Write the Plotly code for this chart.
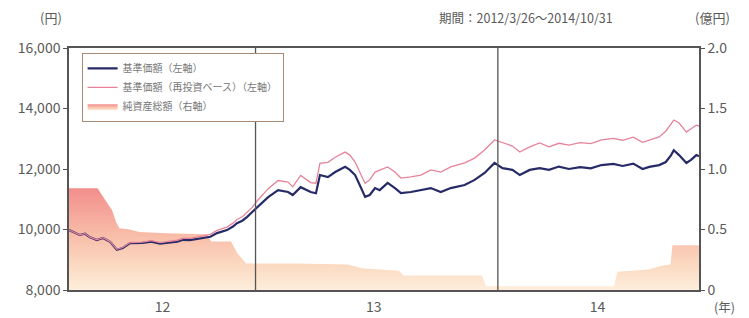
import plotly.graph_objects as go

# ---- data ----
price_dates = [
    "2012-03-26", "2012-04-04", "2012-04-11", "2012-04-19", "2012-04-26", "2012-05-07",
    "2012-05-16", "2012-05-27", "2012-06-06", "2012-06-15", "2012-06-26", "2012-07-15",
    "2012-07-28", "2012-08-10", "2012-08-24", "2012-09-05", "2012-09-14", "2012-09-24",
    "2012-10-14", "2012-10-25", "2012-11-04", "2012-11-19", "2012-11-28", "2012-12-04",
    "2012-12-12", "2012-12-19", "2012-12-27", "2013-01-04", "2013-01-20", "2013-02-04",
    "2013-02-19", "2013-02-26", "2013-03-10", "2013-03-25", "2013-04-02", "2013-04-08",
    "2013-04-20", "2013-05-01", "2013-05-16", "2013-05-23", "2013-05-31", "2013-06-09",
    "2013-06-15", "2013-06-22", "2013-06-30", "2013-07-07", "2013-07-19", "2013-07-30",
    "2013-08-08", "2013-08-23", "2013-09-07", "2013-09-22", "2013-10-07", "2013-10-22",
    "2013-11-12", "2013-11-27", "2013-12-12", "2013-12-27", "2014-01-08", "2014-01-23",
    "2014-02-03", "2014-02-18", "2014-03-05", "2014-03-19", "2014-04-03", "2014-04-18",
    "2014-05-05", "2014-05-21", "2014-06-06", "2014-06-24", "2014-07-08", "2014-07-24",
    "2014-08-07", "2014-08-17", "2014-09-01", "2014-09-11", "2014-09-19", "2014-09-23",
    "2014-10-01", "2014-10-12", "2014-10-19", "2014-10-27", "2014-10-31",
]
nav = [
    9980, 9880, 9820, 9860, 9750, 9650,
    9720, 9590, 9330, 9390, 9550, 9560,
    9600, 9530, 9580, 9600, 9660, 9650,
    9720, 9760, 9880, 9980, 10100, 10210,
    10290, 10410, 10580, 10740, 11070, 11300,
    11240, 11140, 11400, 11240, 11200, 11800,
    11730, 11900, 12070, 11970, 11800, 11370,
    11080, 11140, 11370, 11300, 11540, 11370,
    11200, 11240, 11300, 11370, 11240, 11370,
    11470, 11640, 11870, 12200, 12030, 11970,
    11800, 11970, 12030, 11970, 12080, 12000,
    12060, 12020, 12130, 12170, 12100, 12180,
    12000, 12070, 12130, 12230, 12460, 12620,
    12460, 12200, 12300, 12460, 12420,
]
nav_reinvest = [
    9980, 9885, 9825, 9865, 9755, 9660,
    9730, 9600, 9345, 9405, 9570, 9585,
    9630, 9565, 9620, 9645, 9710, 9705,
    9790, 9840, 9970, 10080, 10210, 10330,
    10420, 10550, 10730, 10960, 11350, 11620,
    11570, 11410, 11790, 11550, 11530, 12190,
    12220, 12390, 12560, 12460, 12230, 11800,
    11530, 11640, 11900, 11960, 12070, 11900,
    11700, 11740, 11800, 11970, 11900, 12070,
    12200, 12360, 12630, 12960, 12860, 12760,
    12560, 12730, 12860, 12730, 12850, 12790,
    12870, 12840, 12960, 13010, 12950, 13050,
    12880, 12960, 13060, 13250, 13500, 13620,
    13520, 13220, 13330, 13450, 13420,
]

asset_dates = [
    "2012-03-26", "2012-05-08", "2012-05-20", "2012-05-30", "2012-06-05", "2012-06-10",
    "2012-06-25", "2012-07-10", "2012-08-20", "2012-10-20", "2012-10-26", "2012-11-25",
    "2012-12-05", "2012-12-18", "2013-03-01", "2013-05-20", "2013-06-10", "2013-08-05",
    "2013-08-12", "2013-12-08", "2013-12-14", "2014-06-25", "2014-06-30", "2014-08-15",
    "2014-09-05", "2014-09-18", "2014-09-21", "2014-10-31",
]
net_assets = [
    0.84, 0.84, 0.74, 0.66, 0.56, 0.51,
    0.50, 0.48, 0.47, 0.46, 0.40, 0.40,
    0.30, 0.22, 0.22, 0.21, 0.18, 0.16,
    0.12, 0.12, 0.03, 0.03, 0.15, 0.17,
    0.20, 0.21, 0.37, 0.37,
]

year_boundaries = ["2013-01-01", "2014-01-01"]
year_tick_positions = ["2012-08-14", "2013-06-28", "2014-05-31"]
year_tick_labels = ["12", "13", "14"]
left_ticks = [8000, 10000, 12000, 14000, 16000]
right_ticks = [0, 0.5, 1.0, 1.5, 2.0]
right_tick_labels = ["0", "0.5", "1.0", "1.5", "2.0"]
x_range = ["2012-03-26", "2014-10-31"]

FONT = "Noto Sans CJK JP"
GRAY = "#5a5a5a"
FRAME = "#555555"

fig = go.Figure()

fig.add_trace(go.Scatter(
    x=asset_dates, y=net_assets, name="純資産総額（右軸）",
    mode="lines", line=dict(width=0, color="#f4a79c"),
    fill="tozeroy",
    fillgradient=dict(type="vertical", start=0, stop=0.84,
                      colorscale=[[0, "#fdeedb"], [0.25, "#fbd9c1"],
                                  [0.55, "#f8bca8"], [1, "#f28e8c"]]),
    yaxis="y", hoverinfo="skip", legendrank=3,
))
fig.add_trace(go.Scatter(
    x=price_dates, y=nav, name="基準価額（左軸）",
    mode="lines", line=dict(width=2.2, color="#262a66"),
    yaxis="y2", legendrank=1,
))
fig.add_trace(go.Scatter(
    x=price_dates, y=nav_reinvest, name="基準価額（再投資ベース）（左軸）",
    mode="lines", line=dict(width=1.3, color="#e6839a"),
    yaxis="y2", legendrank=2,
))

for d in year_boundaries:
    fig.add_shape(type="line", xref="x", yref="paper", x0=d, x1=d, y0=0, y1=1,
                  line=dict(color=FRAME, width=1.3), layer="above")

# the page body has an 8px margin, so the figure is 8px smaller and margins are offset
fig.update_layout(
    width=741, height=310,
    margin=dict(l=61, r=50, t=40, b=28, autoexpand=False),
    paper_bgcolor="white", plot_bgcolor="white",
    font=dict(family=FONT, color=GRAY, size=14),
    showlegend=True,
    legend=dict(x=0.02, y=0.98, xanchor="left", yanchor="top",
                bgcolor="white", bordercolor="#a88a74", borderwidth=1,
                font=dict(size=10, color="#777777", family=FONT),
                tracegroupgap=0, itemwidth=30),
    xaxis=dict(type="date", range=x_range, showgrid=False, zeroline=False,
               tickvals=year_tick_positions, ticktext=year_tick_labels, ticks="",
               showline=True, linecolor=FRAME, linewidth=1.5, mirror=True,
               ticklabelstandoff=3,
               automargin=False, tickfont=dict(size=14, color=GRAY)),
    yaxis=dict(side="right", range=[0, 2], tickvals=right_ticks, ticktext=right_tick_labels,
               showgrid=False, zeroline=False, showline=True, linecolor=FRAME, linewidth=1.5,
               ticks="outside", ticklen=4, tickcolor=FRAME, automargin=False,
               tickfont=dict(size=14, color=GRAY)),
    yaxis2=dict(side="left", overlaying="y", range=[8000, 16000], tickvals=left_ticks,
                tickformat=",d", showgrid=False, zeroline=False, showline=True,
                linecolor=FRAME, linewidth=1.5, ticks="outside", ticklen=4, tickcolor=FRAME,
                automargin=False, tickfont=dict(size=14, color=GRAY)),
    annotations=[
        dict(text="(円)", xref="paper", yref="paper", x=-0.029, y=1.124,
             xanchor="center", yanchor="middle",
             showarrow=False, font=dict(size=13, color=GRAY)),
        dict(text="期間：2012/3/26～2014/10/31", xref="paper", yref="paper", x=0.867, y=1.124,
             xanchor="right", yanchor="middle", showarrow=False,
             font=dict(size=12.5, color=GRAY)),
        dict(text="(億円)", xref="paper", yref="paper", x=1.021, y=1.124,
             xanchor="center", yanchor="middle",
             showarrow=False, font=dict(size=13, color=GRAY)),
        dict(text="(年)", xref="paper", yref="paper", x=1.041, y=-0.068,
             xanchor="center", yanchor="middle",
             showarrow=False, font=dict(size=12.5, color=GRAY)),
    ],
)

fig.write_html("out.html")
